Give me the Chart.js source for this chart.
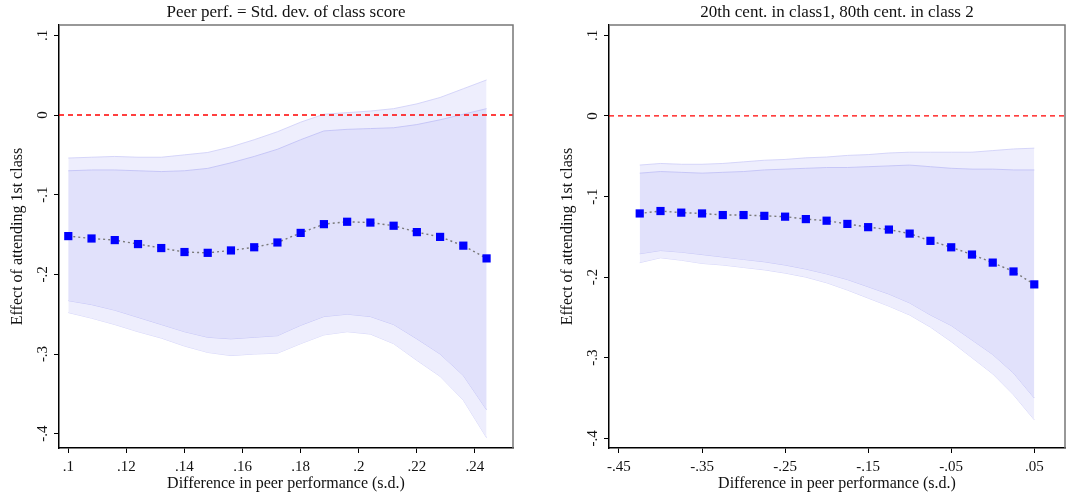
<!DOCTYPE html>
<html>
<head>
<meta charset="utf-8">
<script src="https://cdn.jsdelivr.net/npm/chart.js@4"></script>
<style>
  body { margin: 0; background: #fff; }
  .panel { position: absolute; top: 0; width: 533px; height: 495px; }
  #p1 { left: 0; }
  #p2 { left: 533px; }
</style>
</head>
<body>
<div class="panel" id="p1"><canvas id="c1" width="533" height="495"></canvas></div>
<div class="panel" id="p2"><canvas id="c2" width="533" height="495"></canvas></div>
<script>
// left panel: peer perf = std. dev. of class score
const xLeft = [0.1, 0.108, 0.116, 0.124, 0.132, 0.14, 0.148, 0.156, 0.164, 0.172,
               0.18, 0.188, 0.196, 0.204, 0.212, 0.22, 0.228, 0.236, 0.244];
const estLeft = [-0.152, -0.155, -0.157, -0.162, -0.167, -0.172, -0.173, -0.170, -0.166, -0.160,
                 -0.148, -0.137, -0.134, -0.135, -0.139, -0.147, -0.153, -0.164, -0.180];
const innerHiLeft = [-0.070, -0.069, -0.069, -0.070, -0.071, -0.070, -0.067, -0.060, -0.052, -0.043,
                     -0.031, -0.020, -0.018, -0.017, -0.016, -0.012, -0.006, 0.001, 0.008];
const innerLoLeft = [-0.233, -0.238, -0.245, -0.254, -0.263, -0.272, -0.279, -0.281, -0.279, -0.277,
                     -0.264, -0.253, -0.250, -0.253, -0.263, -0.281, -0.300, -0.327, -0.370];
const outerHiLeft = [-0.054, -0.053, -0.052, -0.053, -0.053, -0.050, -0.047, -0.040, -0.031, -0.021,
                     -0.009, 0.001, 0.003, 0.005, 0.008, 0.014, 0.022, 0.033, 0.044];
const outerLoLeft = [-0.248, -0.255, -0.263, -0.272, -0.280, -0.290, -0.298, -0.302, -0.300, -0.299,
                     -0.287, -0.276, -0.272, -0.275, -0.287, -0.308, -0.328, -0.358, -0.405];
const xTicksLeft = [0.1, 0.12, 0.14, 0.16, 0.18, 0.2, 0.22, 0.24];
const xTickLabelsLeft = ['.1', '.12', '.14', '.16', '.18', '.2', '.22', '.24'];

// right panel: 20th cent. in class 1, 80th cent. in class 2
const xRight = [-0.425, -0.4, -0.375, -0.35, -0.325, -0.3, -0.275, -0.25, -0.225, -0.2,
                -0.175, -0.15, -0.125, -0.1, -0.075, -0.05, -0.025, 0, 0.025, 0.05];
const estRight = [-0.121, -0.118, -0.120, -0.121, -0.123, -0.123, -0.124, -0.125, -0.128, -0.130,
                  -0.134, -0.138, -0.141, -0.146, -0.155, -0.163, -0.172, -0.182, -0.193, -0.209];
const innerHiRight = [-0.071, -0.069, -0.070, -0.071, -0.070, -0.069, -0.067, -0.066, -0.065, -0.064,
                      -0.064, -0.063, -0.062, -0.061, -0.063, -0.065, -0.066, -0.066, -0.067, -0.067];
const innerLoRight = [-0.171, -0.167, -0.169, -0.172, -0.175, -0.178, -0.181, -0.185, -0.190, -0.196,
                      -0.203, -0.212, -0.221, -0.232, -0.247, -0.260, -0.278, -0.296, -0.319, -0.350];
const outerHiRight = [-0.061, -0.059, -0.060, -0.060, -0.059, -0.057, -0.055, -0.054, -0.052, -0.051,
                      -0.049, -0.048, -0.046, -0.045, -0.045, -0.045, -0.045, -0.043, -0.041, -0.040];
const outerLoRight = [-0.182, -0.176, -0.179, -0.183, -0.185, -0.188, -0.191, -0.195, -0.200, -0.207,
                      -0.216, -0.226, -0.236, -0.247, -0.262, -0.280, -0.300, -0.320, -0.346, -0.377];
const xTicksRight = [-0.45, -0.35, -0.25, -0.15, -0.05, 0.05];
const xTickLabelsRight = ['-.45', '-.35', '-.25', '-.15', '-.05', '.05'];

const yTicks = [0.1, 0, -0.1, -0.2, -0.3, -0.4];
const yTickLabels = ['.1', '0', '-.1', '-.2', '-.3', '-.4'];

const FONT = "'Liberation Serif', 'Times New Roman', serif";

function pts(xs, ys) {
    return xs.map((x, i) => ({ x: x, y: ys[i] }));
}

// frame on top/right, red zero line, title centred on plot area
const decor = {
    id: 'decor',
    afterDatasetsDraw(chart, args, opts) {
        const ctx = chart.ctx;
        const a = chart.chartArea;
        const y0 = chart.scales.y.getPixelForValue(0);
        ctx.save();
        ctx.strokeStyle = '#ff0000';
        ctx.lineWidth = 1.3;
        ctx.setLineDash([5, 4]);
        ctx.beginPath();
        ctx.moveTo(a.left, y0);
        ctx.lineTo(a.right, y0);
        ctx.stroke();
        ctx.setLineDash([]);
        ctx.strokeStyle = '#777';
        ctx.lineWidth = 1.5;
        ctx.beginPath();
        ctx.moveTo(a.left, a.top);
        ctx.lineTo(a.right, a.top);
        ctx.lineTo(a.right, a.bottom);
        ctx.stroke();
        ctx.fillStyle = '#111';
        ctx.font = '17px ' + FONT;
        ctx.textAlign = 'center';
        ctx.textBaseline = 'middle';
        ctx.fillText(opts.text, (a.left + a.right) / 2, 13);
        ctx.restore();
    }
};

function makeChart(id, cfg) {
    const ctx = document.getElementById(id).getContext('2d');
    return new Chart(ctx, {
        type: 'line',
        data: {
            datasets: [
                {
                    data: pts(cfg.xs, cfg.est),
                    borderColor: '#7a7a7a',
                    borderWidth: 1.4,
                    borderDash: [2, 3],
                    pointStyle: 'rect',
                    pointRadius: 5.8,
                    pointBackgroundColor: '#0000ff',
                    pointBorderWidth: 0,
                    fill: false,
                },
                {
                    data: pts(cfg.xs, cfg.innerHi),
                    borderColor: 'rgba(195,195,246,0.9)',
                    borderWidth: 1,
                    pointRadius: 0,
                    backgroundColor: '#e1e1fb',
                    fill: 2,
                },
                {
                    data: pts(cfg.xs, cfg.innerLo),
                    borderColor: 'rgba(195,195,246,0.9)',
                    borderWidth: 1,
                    pointRadius: 0,
                    fill: false,
                },
                {
                    data: pts(cfg.xs, cfg.outerHi),
                    borderColor: 'rgba(210,210,248,0.9)',
                    borderWidth: 1,
                    pointRadius: 0,
                    backgroundColor: '#eeeefd',
                    fill: 4,
                },
                {
                    data: pts(cfg.xs, cfg.outerLo),
                    borderColor: 'rgba(210,210,248,0.9)',
                    borderWidth: 1,
                    pointRadius: 0,
                    fill: false,
                },
            ],
        },
        options: {
            responsive: false,
            animation: false,
            devicePixelRatio: 1,
            layout: {
                autoPadding: false,
                padding: { top: 25, right: cfg.padRight, left: cfg.padLeft, bottom: 0 },
            },
            plugins: {
                legend: { display: false },
                title: { display: false },
                tooltip: { enabled: false },
                decor: { text: cfg.title },
            },
            scales: {
                x: {
                    type: 'linear',
                    min: cfg.xMin,
                    max: cfg.xMax,
                    afterBuildTicks: s => { s.ticks = cfg.xTicks.map(v => ({ value: v })); },
                    afterFit: s => { s.height = 47; s.paddingLeft = 0; s.paddingRight = 0; },
                    ticks: {
                        color: '#111',
                        font: { family: FONT, size: 15 },
                        padding: 5,
                        maxRotation: 0,
                        autoSkip: false,
                        callback: (v, i) => cfg.xLabels[i],
                    },
                    grid: { display: true, drawOnChartArea: false, tickLength: 5, color: '#000', lineWidth: 1 },
                    border: { color: '#000', width: 1.5 },
                    title: {
                        display: true,
                        text: 'Difference in peer performance (s.d.)',
                        color: '#111',
                        font: { family: FONT, size: 16 },
                        padding: { top: 0, bottom: 2 },
                    },
                },
                y: {
                    type: 'linear',
                    min: cfg.yMin,
                    max: cfg.yMax,
                    afterBuildTicks: s => { s.ticks = yTicks.map(v => ({ value: v })); },
                    afterFit: s => { s.width = 59; s.paddingTop = 0; s.paddingBottom = 0; },
                    ticks: {
                        color: '#111',
                        font: { family: FONT, size: 15 },
                        minRotation: 90,
                        maxRotation: 90,
                        crossAlign: 'center',
                        padding: 3,
                        autoSkip: false,
                        callback: (v, i) => yTickLabels[i],
                    },
                    grid: { display: true, drawOnChartArea: false, tickLength: 5, color: '#000', lineWidth: 1 },
                    border: { color: '#000', width: 1.5 },
                    title: {
                        display: true,
                        text: 'Effect of attending 1st class',
                        color: '#111',
                        font: { family: FONT, size: 16 },
                        padding: { top: 8, bottom: 0 },
                    },
                },
            },
        },
        plugins: [decor],
    });
}

makeChart('c1', {
    xs: xLeft, est: estLeft,
    innerHi: innerHiLeft, innerLo: innerLoLeft,
    outerHi: outerHiLeft, outerLo: outerLoLeft,
    xTicks: xTicksLeft, xLabels: xTickLabelsLeft,
    xMin: 0.0968, xMax: 0.2531, yMin: -0.418, yMax: 0.113,
    padLeft: 0, padRight: 20,
    title: 'Peer perf. = Std. dev. of class score',
});

makeChart('c2', {
    xs: xRight, est: estRight,
    innerHi: innerHiRight, innerLo: innerLoRight,
    outerHi: outerHiRight, outerLo: outerLoRight,
    xTicks: xTicksRight, xLabels: xTickLabelsRight,
    xMin: -0.462, xMax: 0.087, yMin: -0.412, yMax: 0.1128,
    padLeft: 17, padRight: 1,
    title: '20th cent. in class1, 80th cent. in class 2',
});
</script>
</body>
</html>
